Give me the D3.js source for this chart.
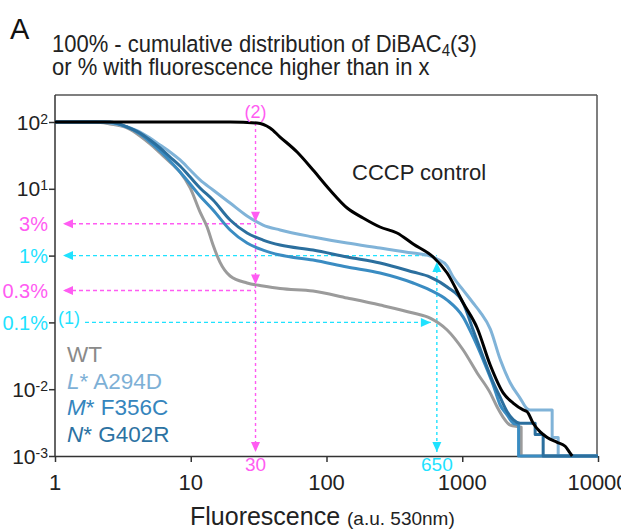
<!DOCTYPE html>
<html><head><meta charset="utf-8">
<script src="https://cdn.jsdelivr.net/npm/d3@7"></script>
<style>
body{margin:0;background:#fff;}
text{font-family:"Liberation Sans",Arial,Helvetica,sans-serif;}
</style>
</head><body>
<svg id="c" width="621" height="529"></svg>
<script>
// ---- data ----
const xTicks = [1, 10, 100, 1000, 10000];
const yTicks = [100, 10, 1, 0.1, 0.01, 0.001];
const yTickBase = ["10", "10", "1%", "0.1%", "10", "10"];
const yTickExp  = ["2", "1", "", "", "-2", "-3"];
const pinkLevels = [3, 0.3];
const pinkLabels = ["3%", "0.3%"];
const cyanLevels = [1, 0.1];
const markX = [30, 650];
const markLabels = ["30", "650"];

const wt = [[1,100],[1.97,100],[2.54,93.3],[3.39,81.3],[4.23,61.7],[5.01,46.9],[5.94,34.4],[7.41,22.7],[8.34,17.8],[9.9,10.3],[11.7,4.5],[13.2,2.68],[14.6,1.44],[16.4,0.8],[19.5,0.495],[26,0.389],[34.1,0.351],[45.5,0.321],[79.6,0.295],[142,0.232],[248,0.182],[435,0.138],[580,0.116],[774,0.077],[1016,0.0386],[1288,0.0175],[1607,0.0088],[1808,0.0054],[2001,0.0038],[2254,0.0029],[2716,0.0027],[2716,0.001],[10000,0.001]];
const lStar = [[1,100],[2.15,100],[2.54,96.6],[3.39,84.2],[4.23,70.8],[5.01,57.5],[5.94,45.3],[7.04,35.6],[8.34,27],[9.9,19.1],[11.7,13.6],[14.6,9.6],[19.5,6.12],[26,3.92],[34.1,2.87],[45.5,2.42],[79.6,1.9],[142,1.54],[248,1.3],[435,1.09],[580,0.987],[653,0.889],[774,0.698],[857,0.478],[1016,0.305],[1203,0.195],[1355,0.143],[1607,0.08],[1902,0.028],[2254,0.0125],[2672,0.0073],[3007,0.0051],[3164,0.0049],[4595,0.0049],[4595,0.0019],[5090,0.0019],[5090,0.001],[10000,0.001]];
const mStar = [[1,100],[2.34,100],[3.39,84.2],[4.23,66.1],[5.01,50.2],[5.94,36.8],[7.04,26.1],[8.34,17.8],[9.9,11.8],[11.7,7.8],[14.6,4.82],[19.5,2.42],[26,1.54],[34.1,1.21],[45.5,1.02],[79.6,0.859],[142,0.675],[248,0.549],[435,0.389],[580,0.305],[774,0.216],[1016,0.12],[1203,0.0605],[1426,0.0274],[1690,0.0116],[1902,0.0058],[2143,0.0041],[2372,0.0031],[2600,0.0029],[2600,0.001],[10000,0.001]];
const nStar = [[1,100],[2.54,100],[3.39,84.2],[4.23,68.4],[5.01,53.8],[5.94,40.8],[7.04,29.9],[8.34,21.9],[9.9,15],[11.7,10.3],[14.6,6.79],[19.5,3.41],[26,2.18],[34.1,1.71],[45.5,1.44],[79.6,1.21],[142,0.953],[248,0.775],[435,0.568],[580,0.478],[774,0.339],[1016,0.195],[1203,0.0769],[1426,0.0303],[1661,0.0137],[1902,0.0076],[2143,0.0046],[2372,0.0035],[2672,0.0031],[3444,0.0031],[3444,0.0021],[3945,0.0021],[3945,0.001],[10000,0.001]];
const cccp = [[1,100],[19.5,100],[30.8,96.6],[38.4,81.3],[45.5,59.6],[60.7,35.5],[79.6,19.1],[106,9.6],[142,5.16],[186,3.66],[248,2.68],[331,2.18],[435,1.49],[611,0.953],[774,0.549],[1016,0.195],[1288,0.0824],[1607,0.023],[2001,0.0088],[2372,0.0062],[2811,0.0049],[3007,0.0046],[3329,0.0031],[3750,0.0023],[4225,0.0019],[5003,0.0016],[5731,0.0014],[6237,0.0011],[6453,0.001]];

const series = [
  {name:"WT", data:wt, color:"#9b9b9b", text:"#8a8a8a", italic:"", rest:"WT"},
  {name:"L* A294D", data:lStar, color:"#80b3d8", text:"#7db0d6", italic:"L", rest:"* A294D"},
  {name:"M* F356C", data:mStar, color:"#3a8cc2", text:"#3585bd", italic:"M", rest:"* F356C"},
  {name:"N* G402R", data:nStar, color:"#2b6f9e", text:"#2c72a2", italic:"N", rest:"* G402R"}
];

const PINK = "#ff5cf2", CYAN = "#1fe2ff";

// ---- layout ----
const svg = d3.select("#c");
const L = 55, R = 598, T = 95, B = 456;
const x = d3.scaleLog().domain([1, 10000]).range([L, R]);
const y = d3.scaleLog().domain([0.001, 100]).range([B, 122]);

svg.append("defs").append("clipPath").attr("id","clip")
  .append("rect").attr("x",L).attr("y",T).attr("width",R-L).attr("height",B-T+3);

// titles
svg.append("text").attr("x",10).attr("y",39).attr("font-size",29).attr("fill","#111").text("A");
const t1 = svg.append("text").attr("transform","translate(52,52) scale(1,1.08)").attr("font-size",22).attr("fill","#222");
t1.append("tspan").text("100% - cumulative distribution of DiBAC");
t1.append("tspan").attr("font-size",15).attr("dy",4).text("4");
t1.append("tspan").attr("dy",-4).text("(3)");
svg.append("text").attr("transform","translate(52,75) scale(1,1.08)").attr("font-size",22).attr("fill","#222")
  .text("or % with fluorescence higher than in x");

// axes ticks
const gy = svg.append("g").attr("transform",`translate(${L},0)`)
  .call(d3.axisLeft(y).tickValues(yTicks).tickSize(6).tickFormat(""));
gy.select(".domain").remove();
gy.selectAll(".tick line").attr("stroke","#333").attr("stroke-width",1.5);
const gx = svg.append("g").attr("transform",`translate(0,${B})`)
  .call(d3.axisBottom(x).tickValues(xTicks).tickSize(6).tickFormat(""));
gx.select(".domain").remove();
gx.selectAll(".tick line").attr("stroke","#333").attr("stroke-width",1.5);

// y tick labels
yTicks.forEach((v,i)=>{
  const isPct = yTickExp[i] === "";
  const tx = svg.append("text").attr("x",48).attr("y",y(v)+7.5)
    .attr("text-anchor","end").attr("font-size", isPct ? 20 : 21)
    .attr("fill", isPct ? CYAN : "#222");
  tx.append("tspan").text(yTickBase[i]);
  if(!isPct) tx.append("tspan").attr("font-size",14).attr("dy",-6).text(yTickExp[i]);
});
pinkLevels.forEach((v,i)=>{
  svg.append("text").attr("x",48).attr("y",y(v)+7.5).attr("text-anchor","end")
    .attr("font-size",20).attr("fill",PINK).text(pinkLabels[i]);
});
// x tick labels
xTicks.forEach(v=>{
  svg.append("text").attr("x",x(v)).attr("y",490).attr("text-anchor","middle")
    .attr("font-size",22).attr("fill","#222").text(d3.format("d")(v));
});
// x axis title
const xt = svg.append("text").attr("x",190).attr("y",525).attr("font-size",25).attr("fill","#222");
xt.append("tspan").text("Fluorescence ");
xt.append("tspan").attr("font-size",19).text("(a.u. 530nm)");

// annotation dashed lines
function hline(v, x0, x1, col){
  svg.append("line").attr("x1",x0).attr("x2",x1).attr("y1",y(v)).attr("y2",y(v))
    .attr("stroke",col).attr("stroke-width",1.4).attr("stroke-dasharray","4,3");
}
function vline(xv, y0, y1, col){
  svg.append("line").attr("x1",x(xv)).attr("x2",x(xv)).attr("y1",y0).attr("y2",y1)
    .attr("stroke",col).attr("stroke-width",1.4).attr("stroke-dasharray","3,3");
}
hline(pinkLevels[0], L+10, x(markX[0]), PINK);
hline(pinkLevels[1], L+10, x(markX[0]), PINK);
hline(cyanLevels[0], L+10, x(markX[1]), CYAN);
hline(cyanLevels[1], L+30, x(markX[1])-6, CYAN);
vline(markX[0], 123, B-4, PINK);
vline(markX[1], 264, B-4, CYAN);

// frame
svg.append("line").attr("x1",L).attr("x2",R-1).attr("y1",T).attr("y2",T).attr("stroke","#555").attr("stroke-width",1.5);
svg.append("line").attr("x1",R-1).attr("x2",R-1).attr("y1",T).attr("y2",B+0.5).attr("stroke","#555").attr("stroke-width",1.5);
svg.append("line").attr("x1",L).attr("x2",L).attr("y1",T).attr("y2",B+0.75).attr("stroke","#333").attr("stroke-width",1.5);
svg.append("line").attr("x1",L).attr("x2",R).attr("y1",B+0.5).attr("y2",B+0.5).attr("stroke","#333").attr("stroke-width",1.5);

// curves
const line = d3.line().x(d=>x(d[0])).y(d=>y(d[1])).curve(d3.curveMonotoneX);
const gc = svg.append("g").attr("clip-path","url(#clip)");
series.forEach(s=>{
  gc.append("path").attr("d",line(s.data)).attr("fill","none")
    .attr("stroke",s.color).attr("stroke-width",3).attr("stroke-linejoin","round");
});
gc.append("path").attr("d",line(cccp)).attr("fill","none")
  .attr("stroke","#000").attr("stroke-width",3).attr("stroke-linejoin","round");

// arrowheads
function arrow(px, py, dir, col){
  const l = 10, w = 4.5;
  let pts;
  if(dir==="left") pts=[[px,py],[px+l,py-w],[px+l,py+w]];
  if(dir==="right") pts=[[px,py],[px-l,py-w],[px-l,py+w]];
  if(dir==="down") pts=[[px,py],[px-w,py-l],[px+w,py-l]];
  if(dir==="up") pts=[[px,py],[px-w,py+l],[px+w,py+l]];
  svg.append("path").attr("d","M"+pts.map(p=>p.join(",")).join("L")+"Z").attr("fill",col);
}
arrow(L+8, y(pinkLevels[0]), "left", PINK);
arrow(L+8, y(pinkLevels[1]), "left", PINK);
arrow(L+8, y(cyanLevels[0]), "left", CYAN);
arrow(x(markX[1])-6, y(cyanLevels[1]), "right", CYAN);
arrow(x(markX[0]), y(pinkLevels[0])-2, "down", PINK);
arrow(x(markX[0]), y(pinkLevels[1])-6, "down", PINK);
arrow(x(markX[0]), B-4, "down", PINK);
arrow(x(markX[1]), 262, "up", CYAN);
arrow(x(markX[1]), B-4, "down", CYAN);

// annotation labels
svg.append("text").attr("x",x(markX[0])).attr("y",118).attr("text-anchor","middle")
  .attr("font-size",18).attr("fill",PINK).text("(2)");
svg.append("text").attr("x",58).attr("y",y(cyanLevels[1])+2).attr("font-size",18).attr("fill",CYAN).text("(1)");
svg.append("text").attr("x",x(markX[0])).attr("y",471).attr("text-anchor","middle")
  .attr("font-size",19).attr("fill",PINK).text(markLabels[0]);
svg.append("text").attr("x",x(markX[1])).attr("y",471).attr("text-anchor","middle")
  .attr("font-size",19).attr("fill",CYAN).text(markLabels[1]);

// CCCP label
svg.append("text").attr("x",352).attr("y",180).attr("font-size",22).attr("fill","#222").text("CCCP control");

// legend
series.forEach((s,i)=>{
  const t = svg.append("text").attr("x",67).attr("y",362+i*26.7).attr("font-size",22.5).attr("fill",s.text);
  if(s.italic) t.append("tspan").attr("font-style","italic").text(s.italic);
  t.append("tspan").text(s.rest);
});
</script>
</body></html>
